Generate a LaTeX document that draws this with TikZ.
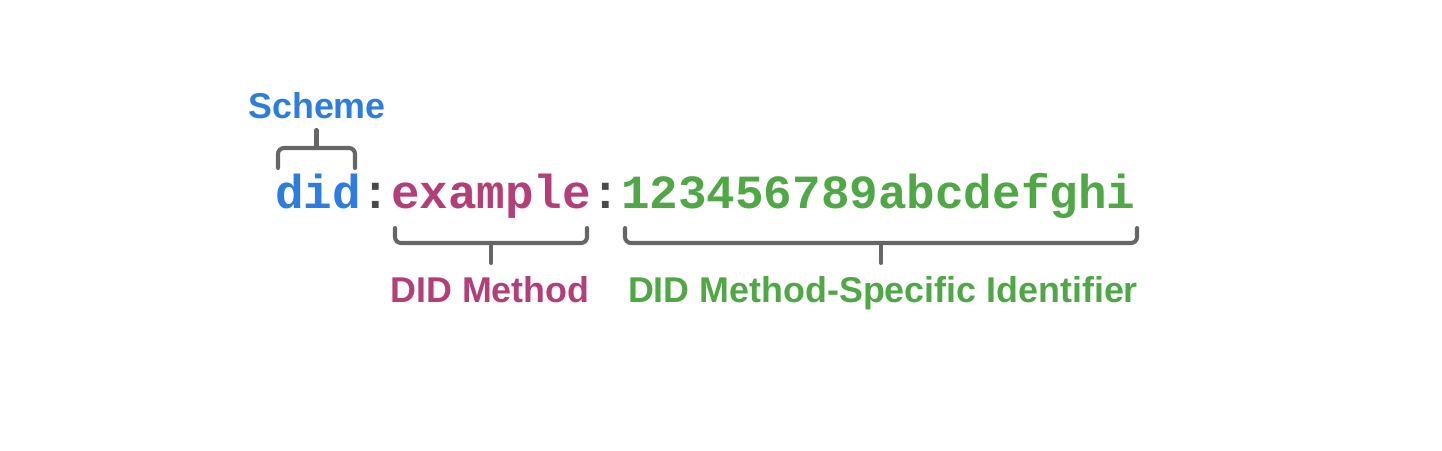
\documentclass[tikz,border=0pt]{standalone}
\usepackage{fontspec}
\setmainfont{Liberation Sans}
\newfontfamily\codefont{Liberation Mono}
\usetikzlibrary{calc,positioning}
\definecolor{schemeblue}{HTML}{2C7DDF}
\definecolor{methodred}{HTML}{B23F78}
\definecolor{idgreen}{HTML}{4FA845}
\definecolor{colongray}{HTML}{4A4A4A}
\definecolor{bracegray}{HTML}{666666}
\tikzset{
  code/.style={inner sep=0pt, font=\codefont\bfseries\fontsize{27.1}{30}\selectfont},
  label/.style={inner sep=0pt, anchor=base, font=\bfseries\fontsize{20.4}{24}\selectfont},
  brace/.style={draw=bracegray, line width=2.3pt, rounded corners=1.2mm, line cap=round}
}
\def\splitbrace(#1,#2)(#3,#4)(#5){\draw[brace] (#1,#3) |- (#2,#4) -- (#2,#3);
  \draw[brace] ({(#1+#2)/2},#4) -- ({(#1+#2)/2},#5);}

\begin{document}
\begin{tikzpicture}[x=0.02cm, y=-0.02cm]
		%%%%% START %%%%%
		\useasboundingbox (0,0) rectangle (1442,450);
		
		\node[code, anchor=base west, text=schemeblue] (did) at (275,208) {did};
		\node[code, base right=0pt of did, text=colongray] (colona) {:};
		\node[code, base right=0pt of colona, text=methodred] (method) {example};
		\node[code, base right=0pt of method, text=colongray] (colonb) {:};
		\node[code, base right=0pt of colonb, text=idgreen] (ident) {123456789abcdefghi};
		
		\splitbrace(278,355)(168,148)(130)
		\splitbrace(395,587)(228,243)(263)
		\splitbrace(625,1137)(228,243)(263)
		
		\node[label, text=schemeblue] (scheme) at (317,118) {Scheme};
		\node[label, text=methodred] (methodlabel) at (490,302) {DID Method};
		\node[label, text=idgreen] (identlabel) at (883,302) {DID Method-Specific Identifier};
		
		%%%%% END %%%%%
	\end{tikzpicture}
\end{document}
